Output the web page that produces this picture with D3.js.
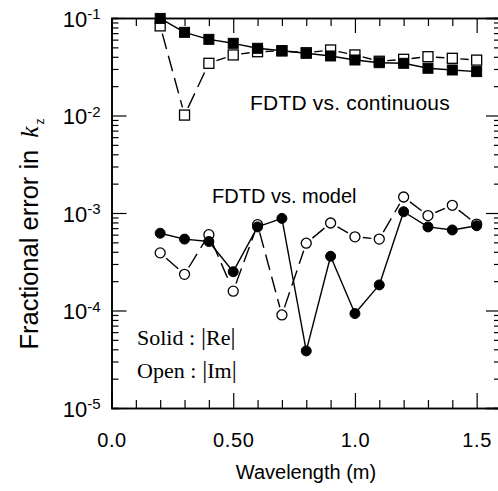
<!DOCTYPE html>
<html>
<head>
<meta charset="utf-8">
<script src="https://d3js.org/d3.v7.min.js"></script>
<style>
  body { margin: 0; background: #fff; }
  text { font-family: "Liberation Sans", Arial, Helvetica, sans-serif; fill: #000; }
  .serif { font-family: "Liberation Serif", "Times New Roman", serif; }
</style>
</head>
<body>
<svg width=498 height=491></svg>

<script>
// wavelength (m)
const wavelength = [0.2, 0.3, 0.4, 0.5, 0.6, 0.7, 0.8, 0.9, 1.0, 1.1, 1.2, 1.3, 1.4, 1.5];

// FDTD vs. continuous
const contRe = [0.099, 0.0713, 0.0604, 0.055, 0.0489, 0.0462, 0.0435, 0.0408, 0.0371, 0.0348, 0.0343, 0.0305, 0.0293, 0.0282];
const contIm = [0.083, 0.0101, 0.0343, 0.0418, 0.0451, 0.046, 0.044, 0.047, 0.0418, 0.036, 0.0377, 0.0401, 0.0386, 0.037];

// FDTD vs. model
const modelRe = [6.2e-4, 5.4e-4, 5.1e-4, 2.5e-4, 7.2e-4, 8.8e-4, 3.85e-5, 3.6e-4, 9.3e-5, 1.83e-4, 1.03e-3, 7.2e-4, 6.7e-4, 7.4e-4];
const modelIm = [3.9e-4, 2.35e-4, 6.0e-4, 1.58e-4, 7.6e-4, 9.0e-5, 4.9e-4, 7.9e-4, 5.7e-4, 5.4e-4, 1.46e-3, 9.4e-4, 1.2e-3, 7.7e-4];

// ticks
const xMajor = [0, 0.5, 1.0, 1.5];
const xLabels = ["0.0", "0.50", "1.0", "1.5"];
const yMajor = [1e-5, 1e-4, 1e-3, 1e-2, 1e-1];
const yExp = ["-5", "-4", "-3", "-2", "-1"];

const svg = d3.select('svg');

const x = d3.scaleLinear().domain([0, 1.6]).range([111.5, 501]);
const y = d3.scaleLog().domain([1e-5, 1e-1]).range([408, 18]);

const xMinor = d3.range(1, 17).map(i => i / 10)
  .filter(v => !xMajor.some(m => Math.abs(m - v) < 1e-9));
const yMinor = [];
yMajor.slice(0, -1).forEach(d => { for (let k = 2; k < 10; k++) yMinor.push(k * d); });

function addAxis(axis, tx, ty) {
  const g = svg.append('g')
    .attr('transform', `translate(${tx},${ty})`)
    .call(axis);
  g.select('.domain').attr('stroke-width', 1.6);
  g.selectAll('.tick line').attr('stroke-width', 1.2);
  return g;
}

// bottom
const xb = addAxis(d3.axisBottom(x).tickValues(xMajor).tickSizeInner(-15).tickSizeOuter(0)
  .tickPadding(25).tickFormat(d => xLabels[xMajor.indexOf(d)]), 0, 408);
xb.selectAll('text').attr('font-size', 20).attr('letter-spacing', 0.6)
  .attr('font-family', '"Liberation Sans", Arial, sans-serif');
addAxis(d3.axisBottom(x).tickValues(xMinor).tickSize(-8).tickFormat(''), 0, 408);
// top
addAxis(d3.axisTop(x).tickValues(xMajor).tickSize(-15).tickFormat(''), 0, 18);
addAxis(d3.axisTop(x).tickValues(xMinor).tickSize(-8).tickFormat(''), 0, 18);

// left
const yl = addAxis(d3.axisLeft(y).tickValues(yMajor).tickSizeInner(-15).tickSizeOuter(0)
  .tickPadding(11).tickFormat(''), 111.5, 0);
yl.selectAll('.tick text')
  .attr('font-size', 22)
  .attr('font-family', '"Liberation Sans", Arial, sans-serif')
  .attr('dy', '0.38em')
  .each(function(d) {
    const t = d3.select(this);
    t.append('tspan').text('10');
    t.append('tspan').attr('dy', '-0.5em').attr('font-size', 15).text(yExp[yMajor.indexOf(d)]);
  });
addAxis(d3.axisLeft(y).tickValues(yMinor).tickSize(-7).tickFormat(''), 111.5, 0);
// right
addAxis(d3.axisRight(y).tickValues(yMajor).tickSize(-15).tickFormat(''), 501, 0);
addAxis(d3.axisRight(y).tickValues(yMinor).tickSize(-7).tickFormat(''), 501, 0);

// series
function drawLines(vals, trim, dash) {
  const g = svg.append('g');
  for (let i = 0; i < vals.length - 1; i++) {
    const x1 = x(wavelength[i]), y1 = y(vals[i]);
    const x2 = x(wavelength[i + 1]), y2 = y(vals[i + 1]);
    const len = Math.hypot(x2 - x1, y2 - y1);
    if (len <= 2 * trim) continue;
    const ux = (x2 - x1) / len, uy = (y2 - y1) / len;
    g.append('line')
      .attr('x1', x1 + ux * trim).attr('y1', y1 + uy * trim)
      .attr('x2', x2 - ux * trim).attr('y2', y2 - uy * trim)
      .attr('stroke', '#000').attr('stroke-width', 1.4)
      .attr('stroke-dasharray', dash);
  }
}

function drawMarkers(vals, shape, filled) {
  const g = svg.append('g');
  const pts = vals.map((v, i) => [x(wavelength[i]), y(v)]);
  if (shape === 'square') {
    g.selectAll('rect').data(pts).join('rect')
      .attr('x', d => d[0] - 5).attr('y', d => d[1] - 5)
      .attr('width', 10).attr('height', 10)
      .attr('fill', filled ? '#000' : '#fff')
      .attr('stroke', '#000').attr('stroke-width', filled ? 1 : 1.3);
  } else {
    g.selectAll('circle').data(pts).join('circle')
      .attr('cx', d => d[0]).attr('cy', d => d[1]).attr('r', 5)
      .attr('fill', filled ? '#000' : '#fff')
      .attr('stroke', '#000').attr('stroke-width', filled ? 1 : 1.3);
  }
}

drawLines(contIm, 8, '16,7');
drawLines(modelIm, 8, '16,7');
drawLines(contRe, 0, null);
drawLines(modelRe, 0, null);
drawMarkers(contIm, 'square', false);
drawMarkers(modelIm, 'circle', false);
drawMarkers(contRe, 'square', true);
drawMarkers(modelRe, 'circle', true);

// annotations
svg.append('text').attr('x', 250).attr('y', 110).attr('font-size', 21).attr('letter-spacing', 0.2)
  .text('FDTD vs. continuous');
svg.append('text').attr('x', 212).attr('y', 203).attr('font-size', 20).text('FDTD vs. model');

function legendLine(label, part, yPos) {
  const t = svg.append('text').attr('class', 'serif').attr('x', 137).attr('y', yPos).attr('font-size', 22);
  t.append('tspan').text(label + ' :');
  t.append('tspan').attr('dx', 6).attr('font-size', 25).text('|');
  t.append('tspan').text(part);
  t.append('tspan').attr('font-size', 25).text('|');
}
legendLine('Solid', 'Re', 345);
legendLine('Open', 'Im', 378);

// axis titles
svg.append('text').attr('x', 306).attr('y', 479).attr('font-size', 20)
  .attr('text-anchor', 'middle').text('Wavelength (m)');

const yt = svg.append('text')
  .attr('transform', 'translate(38,234) rotate(-90)')
  .attr('text-anchor', 'middle')
  .attr('font-size', 25.5);
yt.append('tspan').text('Fractional error in');
yt.append('tspan').attr('dx', 12).attr('class', 'serif').attr('font-style', 'italic').text('k');
yt.append('tspan').attr('dy', 6).attr('dx', 2).attr('font-size', 12).text('z');
</script>
</body>
</html>
